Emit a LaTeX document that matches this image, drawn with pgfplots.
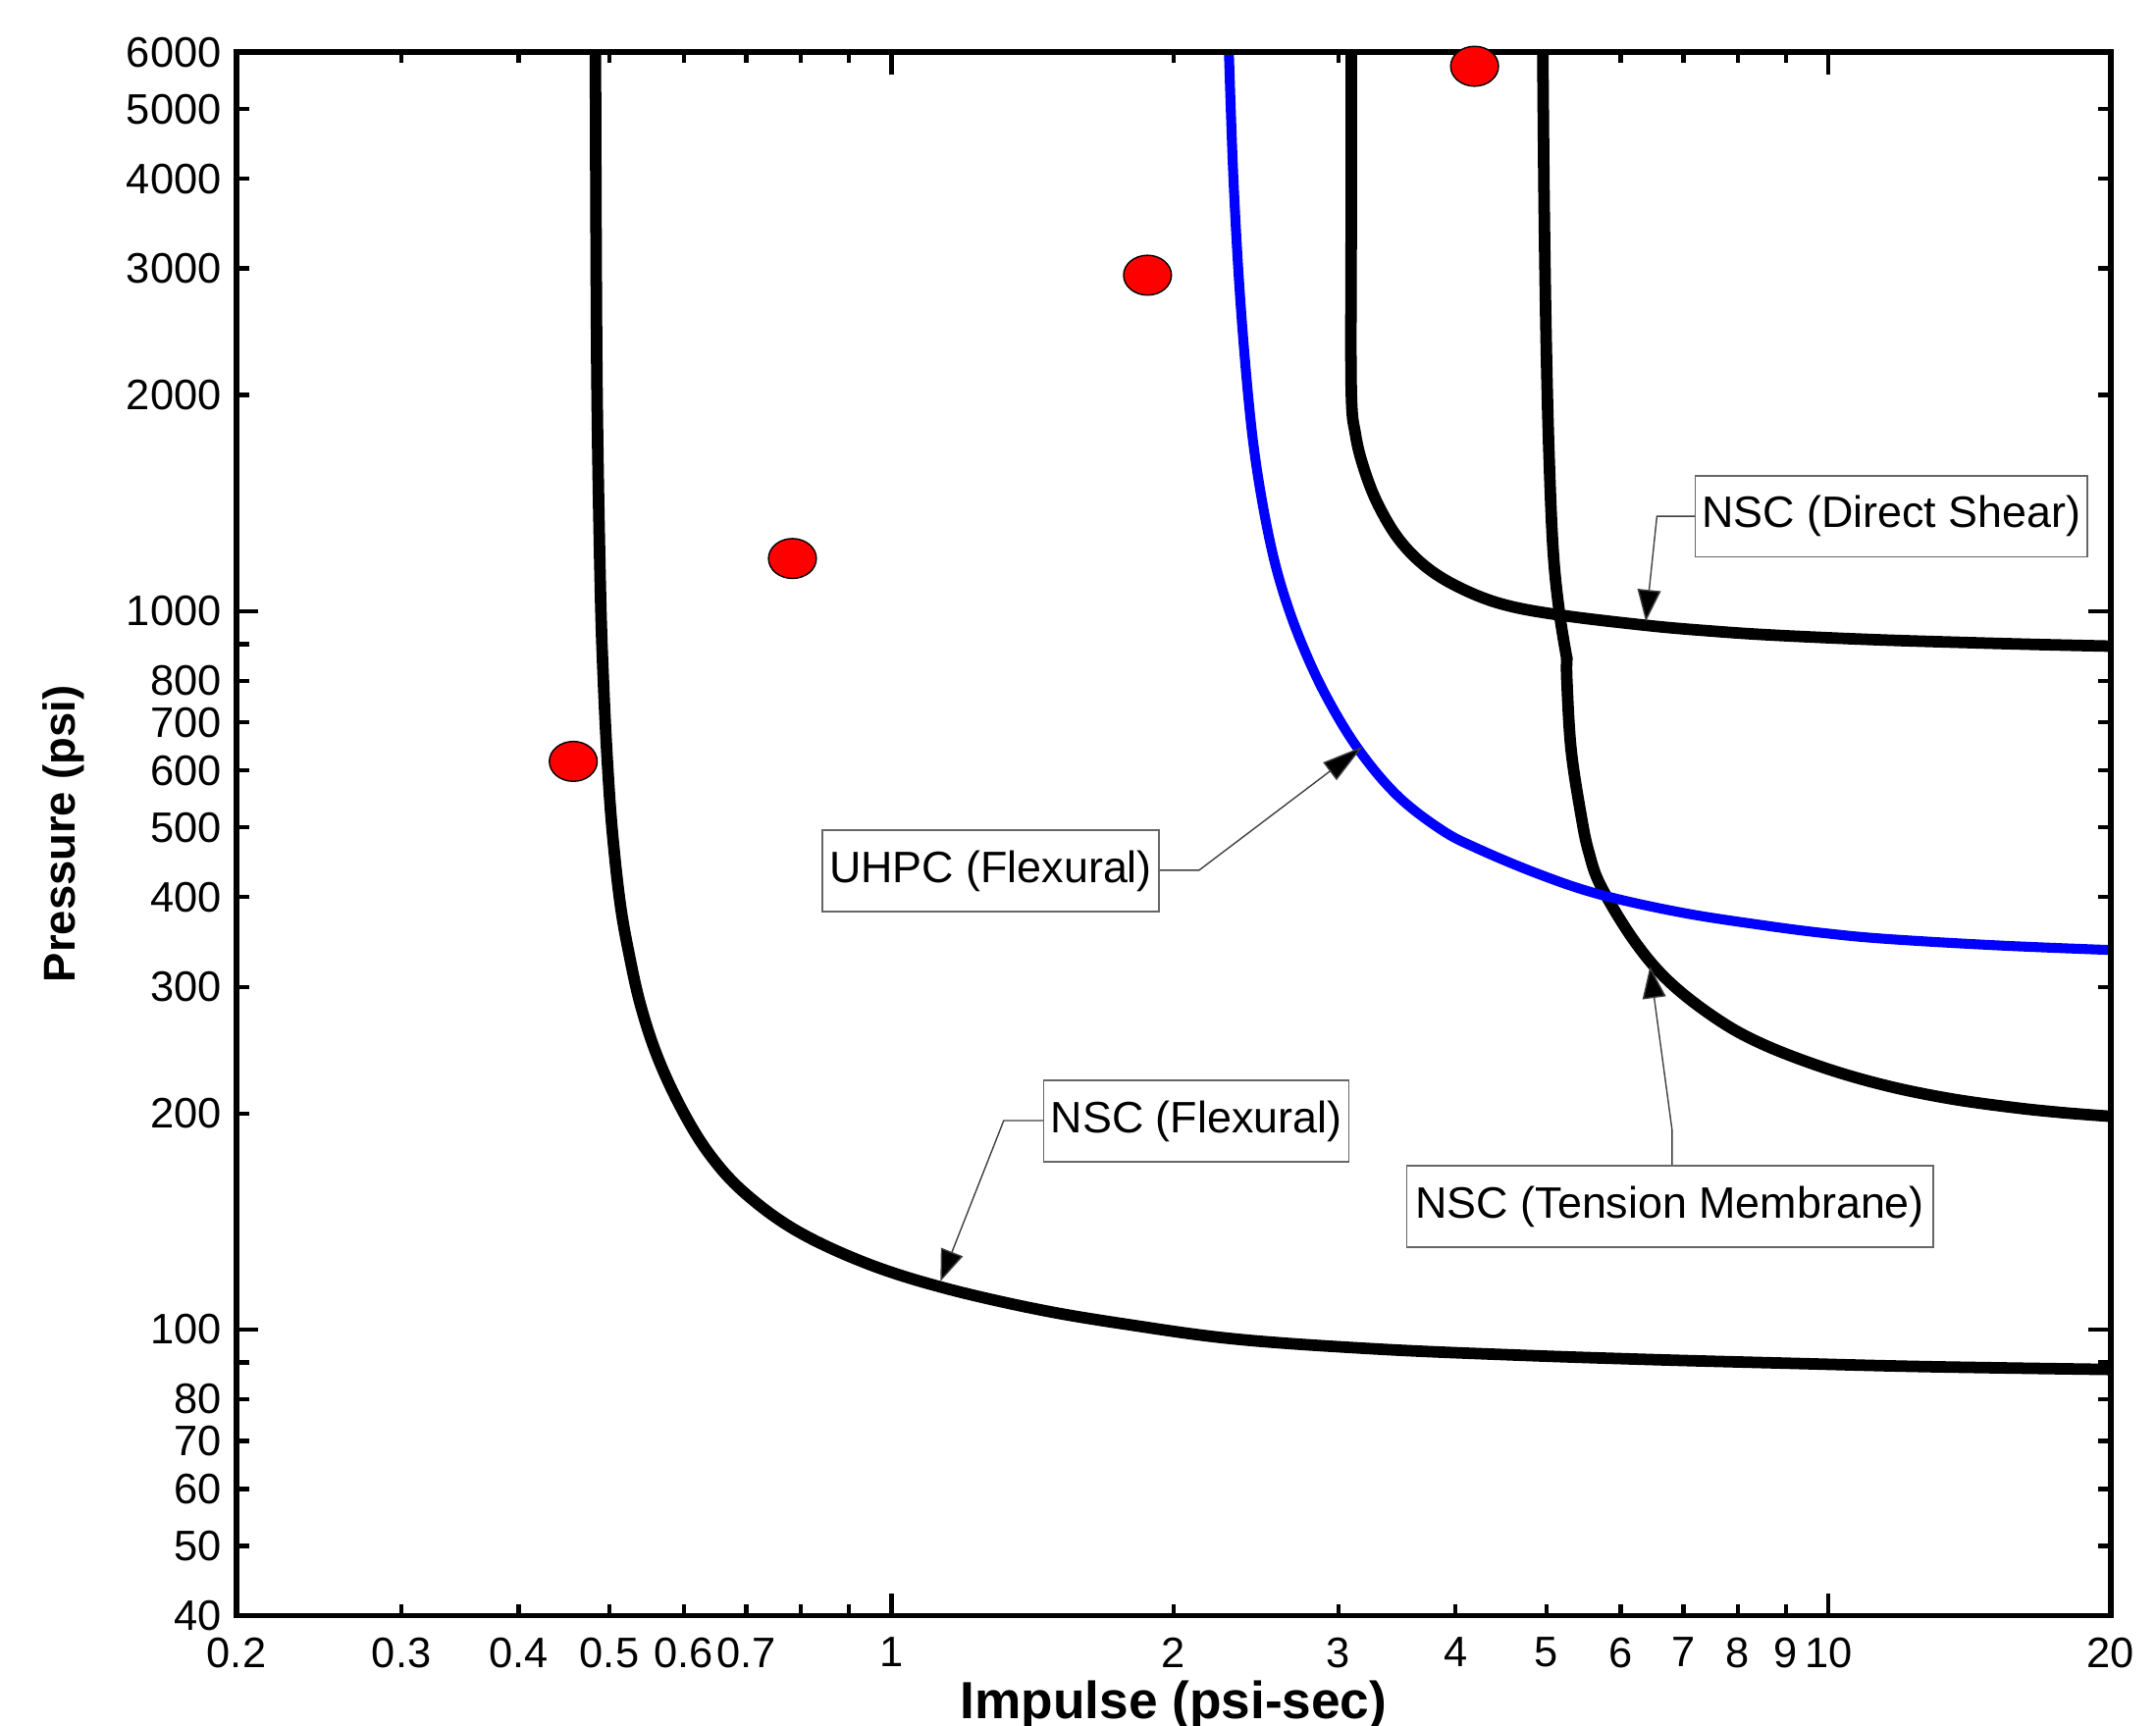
\documentclass[border=0pt]{standalone}
\usepackage{fontspec}
\setmainfont{Liberation Sans}
\usepackage{pgfplots}
\pgfplotsset{compat=1.18}
\usetikzlibrary{arrows.meta}
\begin{document}
\begin{tikzpicture}
\useasboundingbox (-86pt,-40pt) rectangle (698pt,587.5pt);
\begin{axis}[
  at={(0,0)}, anchor=south west,
  scale only axis, width=681.5pt, height=568.5pt,
  xmode=log, ymode=log,
  xmin=0.2, xmax=20, ymin=40, ymax=6000,
  axis line style={line width=2pt},
  tick align=inside,
  tick style={line width=1.5pt, black},
  major tick length=8pt,
  minor xtick={}, minor ytick={},
  xtick={1,10}, xticklabels={1,10},
  extra x ticks={0.2,0.3,0.4,0.5,0.6,0.7,0.8,0.9,2,3,4,5,6,7,8,9,20},
  extra x tick labels={0.2,0.3,0.4,0.5,0.6,0.7,{},{},2,3,4,5,6,7,8,9,20},
  extra x tick style={major tick length=4pt},
  ytick={100,1000}, yticklabels={100,1000},
  extra y ticks={40,50,60,70,80,90,200,300,400,500,600,700,800,900,2000,3000,4000,5000,6000},
  extra y tick labels={40,50,60,70,80,{},200,300,400,500,600,700,800,{},2000,3000,4000,5000,6000},
  extra y tick style={major tick length=4.5pt},
  ticklabel style={font=\fontsize{15.5}{18}\selectfont},
  xticklabel style={yshift=-4.5pt},
  yticklabel style={xshift=-2pt},
  xlabel={Impulse (psi-sec)},
  ylabel={Pressure (psi)},
  xlabel style={font=\bfseries\fontsize{19}{22}\selectfont, at={(axis description cs:0.5,-0.0572)}, anchor=center},
  ylabel style={font=\bfseries\fontsize{16.2}{19}\selectfont, at={(axis description cs:-0.0924,0.5)}, anchor=center},
  axis on top,
  every axis plot/.append style={line join=round, line cap=round},
]
% NSC (Flexural)
\addplot[black, line width=4.2pt, smooth, tension=0.6] coordinates {
(0.4831,6000) (0.4848,2159) (0.4889,1090) (0.4930,783) (0.4981,601) (0.5039,489)
(0.5134,392) (0.5248,333) (0.5401,282) (0.5632,239) (0.5975,202.5) (0.6393,175.5)
(0.6955,155.4) (0.7897,137.6) (0.9355,124.0) (1.1265,114.7) (1.4276,106.8) (1.791,101.6)
(2.332,97.0) (3.281,94.0) (4.600,92.2) (6.449,90.85) (9.039,89.78) (12.67,88.81) (20,88.0)};
% NSC (Direct Shear)
\addplot[black, line width=4.2pt, smooth, tension=0.6] coordinates {
(3.0946,6000) (3.0946,3505) (3.0946,2047) (3.1272,1762) (3.1955,1574) (3.3065,1407)
(3.4832,1257) (3.7305,1149) (4.0662,1074) (4.5094,1021) (5.1756,987.6) (6.4186,955.1)
(7.4906,938.5) (8.7405,926.1) (11.147,913.0) (14.218,904.0) (16.916,898.5) (20,894.1)};
% NSC (Tension Membrane)
\addplot[black, line width=4.2pt, smooth, tension=0.6] coordinates {
(4.955,6000) (4.9716,3662) (4.9968,2357) (5.0307,1656) (5.0819,1217) (5.1599,998) (5.2567,859)};
\addplot[black, line width=4.2pt, smooth, tension=0.6] coordinates {
(5.2567,859) (5.2567,801) (5.3121,641) (5.4468,517.6) (5.5488,461.6) (5.7198,413.5)
(6.2138,346.6) (6.7827,303.7) (7.6365,269.6) (8.5369,249.1) (9.9378,231.0) (11.571,218.3)
(13.493,209.6) (15.735,203.8) (17.770,200.45) (20,198.1)};
% UHPC (Flexural)
\addplot[blue, line width=3.6pt, smooth, tension=0.6] coordinates {
(2.2911,6000) (2.3168,4000) (2.3540,2762) (2.4044,1971) (2.4546,1574) (2.5321,1257)
(2.6182,1062.6) (2.7434,898.1) (2.9152,758.5) (3.1537,641.0) (3.4668,553.7) (3.8610,496.4)
(4.2147,467.7) (4.8966,431.0) (5.6909,403.6) (6.9649,380.7) (8.5255,365.4) (9.9309,356.2)
(11.571,349.7) (15.261,342.5) (20,337.6)};
% test points
\addplot[only marks, mark=*, mark size=7.25pt,
  mark options={xscale=1.2, fill=red, draw=black, line width=0.5pt}] coordinates {
(0.4575,618) (0.784,1184) (1.876,2936) (4.19,5736)};
% annotations
\tikzset{lead/.style={draw=black!75, line width=0.5pt, -{Triangle[length=11.5pt,width=8.5pt,fill=black]}},
  lbl/.style={draw=black!60, fill=white, line width=0.6pt, inner sep=0pt, minimum height=29.5pt,
  font=\fontsize{16}{19}\selectfont}}
\draw[lead] (rel axis cs:0.7784,0.7032) -- (rel axis cs:0.7579,0.7032) -- (rel axis cs:0.752,0.6359);
\node[lbl, minimum width=142.5pt] at (rel axis cs:0.883,0.7032) {NSC (Direct Shear)};
\draw[lead, -{Triangle[length=15pt,width=8pt,fill=black]}] (rel axis cs:0.4923,0.4767) -- (rel axis cs:0.5136,0.4767) -- (rel axis cs:0.6009,0.5559);
\node[lbl, minimum width=122.5pt] at (rel axis cs:0.4024,0.4763) {UHPC (Flexural)};
\draw[lead] (rel axis cs:0.4307,0.3166) -- (rel axis cs:0.4094,0.3166) -- (rel axis cs:0.3756,0.2137);
\node[lbl, minimum width=111pt] at (rel axis cs:0.5121,0.3162) {NSC (Flexural)};
\draw[lead] (rel axis cs:0.766,0.2876) -- (rel axis cs:0.766,0.3105) -- (rel axis cs:0.7542,0.4151);
\node[lbl, minimum width=191.5pt] at (rel axis cs:0.7649,0.2617) {NSC (Tension Membrane)};
\end{axis}
\end{tikzpicture}
\end{document}
